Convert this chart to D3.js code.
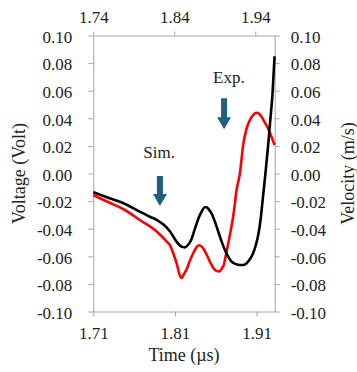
<!DOCTYPE html>
<html>
<head>
<meta charset="utf-8">
<script src="https://cdn.jsdelivr.net/npm/d3@7"></script>
<style>
  body { margin: 0; background: #fff; }
  svg text { font-family: "Liberation Serif", "Times New Roman", serif; fill: #222; }
</style>
</head>
<body>
<script>
// values (time in us, voltage in volt)
var blackTime = [1.710,1.720,1.730,1.747,1.767,1.780,1.788,1.796,1.804,1.812,1.818,1.822,1.826,1.830,1.8345,1.8385,1.8427,1.8465,1.849,1.8512,1.8549,1.859,1.863,1.867,1.8712,1.876,1.8794,1.884,1.8896,1.894,1.8978,1.902,1.9058,1.909,1.912,1.915,1.9175,1.921,1.9242,1.927,1.9296,1.932];
var blackVolt = [-0.0135,-0.0158,-0.018,-0.0216,-0.0277,-0.0315,-0.0337,-0.037,-0.042,-0.0494,-0.053,-0.0535,-0.0518,-0.048,-0.04,-0.033,-0.0277,-0.0245,-0.0245,-0.0258,-0.029,-0.035,-0.042,-0.049,-0.0554,-0.061,-0.0639,-0.0655,-0.0663,-0.0663,-0.0651,-0.062,-0.0578,-0.052,-0.0446,-0.033,-0.019,0.001,0.0207,0.04,0.0585,0.085];
var redTime = [1.710,1.720,1.730,1.747,1.767,1.788,1.800,1.804,1.808,1.812,1.8161,1.8182,1.821,1.8243,1.8284,1.8324,1.837,1.8397,1.8446,1.849,1.8528,1.857,1.861,1.8645,1.8672,1.870,1.8724,1.8773,1.8822,1.8855,1.8896,1.8936,1.8975,1.9018,1.906,1.910,1.913,1.9161,1.920,1.9242,1.928,1.932];
var redVolt = [-0.0156,-0.0185,-0.0212,-0.0259,-0.0337,-0.0422,-0.0494,-0.052,-0.058,-0.065,-0.074,-0.0757,-0.073,-0.0695,-0.063,-0.0578,-0.053,-0.052,-0.0542,-0.059,-0.0639,-0.0685,-0.0707,-0.071,-0.069,-0.066,-0.0591,-0.0446,-0.0277,-0.012,0.0001,0.0207,0.032,0.0388,0.0425,0.044,0.0432,0.0412,0.037,0.0325,0.027,0.0207];

var bottomTicks = [1.71, 1.81, 1.91];
var topTicks = [1.74, 1.84, 1.94];
var yTicks = [-0.10,-0.08,-0.06,-0.04,-0.02,0.00,0.02,0.04,0.06,0.08,0.10];

var labels = ["Sim.", "Exp."];
var labelTime = [1.7906, 1.8761];
var labelVolt = [0.0112, 0.0656];
var arrowTime = [1.7916, 1.8702];
var arrowTop = [-0.0018, 0.0545];
var arrowTip = [-0.0236, 0.032];

var W = 357, H = 372;
var plotL = 93.3, plotR = 274.7, plotT = 35.5, plotB = 311.5;
var axisColor = "#a6a6a6";
var serif = "'Liberation Serif', 'Times New Roman', serif";

var svg = d3.select("body").append("svg")
    .attr("width", W)
    .attr("height", H);

var x = d3.scaleLinear().domain([1.71, 1.9322]).range([plotL, plotR]);
var xTop = d3.scaleLinear().domain([1.74, 1.964]).range([plotL, plotR]);
var y = d3.scaleLinear().domain([-0.10, 0.10]).range([plotB, plotT]);

function fmt(d) { return d.toFixed(2); }

function styleAxis(g) {
  g.attr("font-size", 17).attr("font-family", null);
  g.selectAll("path, line").attr("stroke", axisColor).attr("stroke-width", 1);
  g.selectAll("text").attr("fill", "#222")
    .style("font-family", serif).style("font-size", "17px");
}

// axes
var gB = svg.append("g").attr("transform", "translate(0," + plotB + ")")
  .call(d3.axisBottom(x).tickValues(bottomTicks).tickFormat(fmt).tickSize(5).tickSizeOuter(0).tickPadding(10));
styleAxis(gB);

var gT = svg.append("g").attr("transform", "translate(0," + plotT + ")")
  .call(d3.axisTop(xTop).tickValues(topTicks).tickFormat(fmt).tickSize(4).tickSizeOuter(0).tickPadding(9));
styleAxis(gT);

var gL = svg.append("g").attr("transform", "translate(" + plotL + ",0)")
  .call(d3.axisLeft(y).tickValues(yTicks).tickFormat(fmt).tickSize(5).tickSizeOuter(0).tickPadding(16));
styleAxis(gL);
gL.selectAll("text").attr("dy", "0.4em");

var gR = svg.append("g").attr("transform", "translate(" + plotR + ",0)")
  .call(d3.axisRight(y).tickValues(yTicks).tickFormat(fmt).tickSize(5).tickSizeOuter(0).tickPadding(11));
styleAxis(gR);
gR.selectAll("text").attr("dy", "0.4em");

// data lines
var line = d3.line()
    .x(function(d) { return x(d[0]); })
    .y(function(d) { return y(d[1]); })
    .curve(d3.curveMonotoneX);

var redData = redTime.map(function(t, i) { return [t, redVolt[i]]; });
var blackData = blackTime.map(function(t, i) { return [t, blackVolt[i]]; });

svg.append("path").datum(redData)
  .attr("d", line).attr("fill", "none").attr("stroke", "#ff0000")
  .attr("stroke-width", 2.6).attr("stroke-linejoin", "round");

svg.append("path").datum(blackData)
  .attr("d", line).attr("fill", "none").attr("stroke", "#000")
  .attr("stroke-width", 2.6).attr("stroke-linejoin", "round");

// annotations
labels.forEach(function(txt, i) {
  svg.append("text")
    .attr("x", x(labelTime[i]))
    .attr("y", y(labelVolt[i]))
    .attr("text-anchor", "middle")
    .style("font-size", "17px")
    .text(txt);

  var cx = x(arrowTime[i]), y0 = y(arrowTop[i]), y1 = y(arrowTip[i]);
  var head = 12, hw = 7, sw = 3;
  var p = d3.path();
  p.moveTo(cx - sw, y0);
  p.lineTo(cx + sw, y0);
  p.lineTo(cx + sw, y1 - head);
  p.lineTo(cx + hw, y1 - head);
  p.lineTo(cx, y1);
  p.lineTo(cx - hw, y1 - head);
  p.lineTo(cx - sw, y1 - head);
  p.closePath();
  svg.append("path").attr("d", p.toString()).attr("fill", "#1d5f7f");
});

// axis titles
svg.append("text")
  .attr("transform", "translate(25," + ((plotT + plotB) / 2) + ") rotate(-90)")
  .attr("text-anchor", "middle")
  .style("font-size", "18px")
  .text("Voltage (Volt)");

svg.append("text")
  .attr("transform", "translate(354," + ((plotT + plotB) / 2) + ") rotate(-90)")
  .attr("text-anchor", "middle")
  .style("font-size", "18px")
  .text("Velocity (m/s)");

svg.append("text")
  .attr("x", 184)
  .attr("y", 361)
  .attr("text-anchor", "middle")
  .style("font-size", "18px")
  .text("Time (µs)");
</script>
</body>
</html>
